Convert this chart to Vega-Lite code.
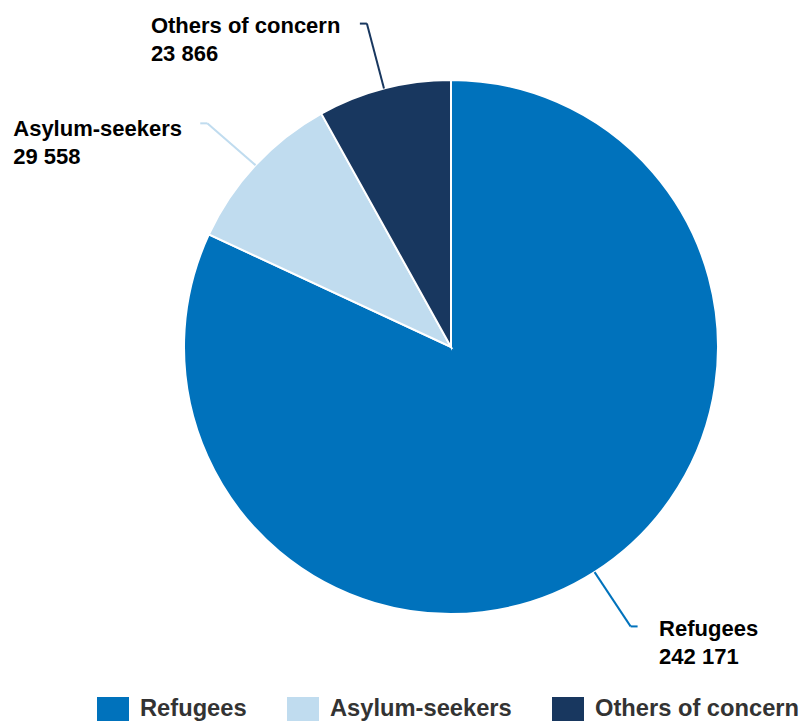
{
  "$schema": "https://vega.github.io/schema/vega-lite/v6.json",
  "width": 706,
  "height": 694,
  "autosize": {"type": "none"},
  "padding": {"left": 98, "top": 0, "right": 0, "bottom": 34},
  "background": "white",
  "config": {"view": {"stroke": null}, "font": "Liberation Sans"},
  "data": {
    "values": [
      {"category": "Refugees", "value": 242171, "order": 1},
      {"category": "Asylum-seekers", "value": 29558, "order": 2},
      {"category": "Others of concern", "value": 23866, "order": 3}
    ]
  },
  "transform": [
    {"window": [{"op": "sum", "field": "value", "as": "cum"}], "sort": [{"field": "order"}], "frame": [null, 0]},
    {"joinaggregate": [{"op": "sum", "field": "value", "as": "total"}]},
    {"calculate": "2*PI*(datum.cum - datum.value/2)/datum.total", "as": "mid"},
    {"calculate": "sin(datum.mid)", "as": "ex"},
    {"calculate": "cos(datum.mid)", "as": "ey"},
    {"calculate": "datum.ex < 0 ? 1 : -1", "as": "side"},
    {"calculate": "1.2584*sin(datum.mid - 0.021)", "as": "lx"},
    {"calculate": "1.2584*cos(datum.mid - 0.021)", "as": "ly"},
    {"calculate": "datum.lx + datum.side*7/267", "as": "cx"},
    {"calculate": "datum.category + '\\n' + replace(format(datum.value, ','), ',', ' ')", "as": "label"}
  ],
  "layer": [
    {
      "mark": {"type": "arc", "outerRadius": 267, "stroke": "white", "strokeWidth": 2},
      "encoding": {
        "theta": {"field": "value", "type": "quantitative", "stack": true},
        "order": {"field": "order", "type": "quantitative"},
        "color": {
          "field": "category",
          "type": "nominal",
          "scale": {"domain": ["Refugees", "Asylum-seekers", "Others of concern"], "range": ["#0072bc", "#c0dcef", "#18375f"]},
          "legend": {
            "orient": "none",
            "legendX": 3,
            "legendY": 697,
            "direction": "horizontal",
            "title": null,
            "symbolType": "M-1.333,-1H1.333V1H-1.333Z",
            "symbolSize": 576,
            "symbolStrokeWidth": 0,
            "symbolOpacity": 1,
            "labelFont": "Liberation Sans",
            "labelFontSize": 23.7,
            "labelFontWeight": "bold",
            "labelColor": "#333333",
            "labelOffset": 15,
            "columnPadding": 40,
            "padding": 0,
            "labelLimit": 0
          }
        }
      }
    },
    {
      "mark": {"type": "rule", "strokeWidth": 2},
      "encoding": {
        "x": {"field": "ex", "type": "quantitative", "scale": {"domain": [-1.3221, 1.3221], "nice": false, "zero": false}, "axis": null},
        "y": {"field": "ey", "type": "quantitative", "scale": {"domain": [-1.2996, 1.2996], "nice": false, "zero": false}, "axis": null},
        "x2": {"field": "cx"},
        "y2": {"field": "ly"},
        "stroke": {"field": "category", "type": "nominal", "scale": {"domain": ["Refugees", "Asylum-seekers", "Others of concern"], "range": ["#0072bc", "#c0dcef", "#18375f"]}, "legend": null}
      }
    },
    {
      "mark": {"type": "rule", "strokeWidth": 2},
      "encoding": {
        "x": {"field": "cx", "type": "quantitative", "scale": {"domain": [-1.3221, 1.3221], "nice": false, "zero": false}, "axis": null},
        "y": {"field": "ly", "type": "quantitative", "scale": {"domain": [-1.2996, 1.2996], "nice": false, "zero": false}, "axis": null},
        "x2": {"field": "lx"},
        "stroke": {"field": "category", "type": "nominal", "scale": {"domain": ["Refugees", "Asylum-seekers", "Others of concern"], "range": ["#0072bc", "#c0dcef", "#18375f"]}, "legend": null}
      }
    },
    {
      "transform": [{"filter": "datum.category == 'Others of concern'"}],
      "mark": {"type": "text", "align": "left", "baseline": "alphabetic", "dx": -209, "dy": 9, "fontSize": 22, "fontWeight": "bold", "font": "Liberation Sans", "fill": "#000000", "lineBreak": "\n", "lineHeight": 28},
      "encoding": {
        "x": {"field": "lx", "type": "quantitative", "scale": {"domain": [-1.3221, 1.3221], "nice": false, "zero": false}, "axis": null},
        "y": {"field": "ly", "type": "quantitative", "scale": {"domain": [-1.2996, 1.2996], "nice": false, "zero": false}, "axis": null},
        "text": {"field": "label", "type": "nominal"}
      }
    },
    {
      "transform": [{"filter": "datum.category == 'Asylum-seekers'"}],
      "mark": {"type": "text", "align": "left", "baseline": "alphabetic", "dx": -187, "dy": 12.5, "fontSize": 22, "fontWeight": "bold", "font": "Liberation Sans", "fill": "#000000", "lineBreak": "\n", "lineHeight": 28},
      "encoding": {
        "x": {"field": "lx", "type": "quantitative", "scale": {"domain": [-1.3221, 1.3221], "nice": false, "zero": false}, "axis": null},
        "y": {"field": "ly", "type": "quantitative", "scale": {"domain": [-1.2996, 1.2996], "nice": false, "zero": false}, "axis": null},
        "text": {"field": "label", "type": "nominal"}
      }
    },
    {
      "transform": [{"filter": "datum.category == 'Refugees'"}],
      "mark": {"type": "text", "align": "left", "baseline": "alphabetic", "dx": 21.5, "dy": 9.5, "fontSize": 22, "fontWeight": "bold", "font": "Liberation Sans", "fill": "#000000", "lineBreak": "\n", "lineHeight": 28},
      "encoding": {
        "x": {"field": "lx", "type": "quantitative", "scale": {"domain": [-1.3221, 1.3221], "nice": false, "zero": false}, "axis": null},
        "y": {"field": "ly", "type": "quantitative", "scale": {"domain": [-1.2996, 1.2996], "nice": false, "zero": false}, "axis": null},
        "text": {"field": "label", "type": "nominal"}
      }
    }
  ]
}
